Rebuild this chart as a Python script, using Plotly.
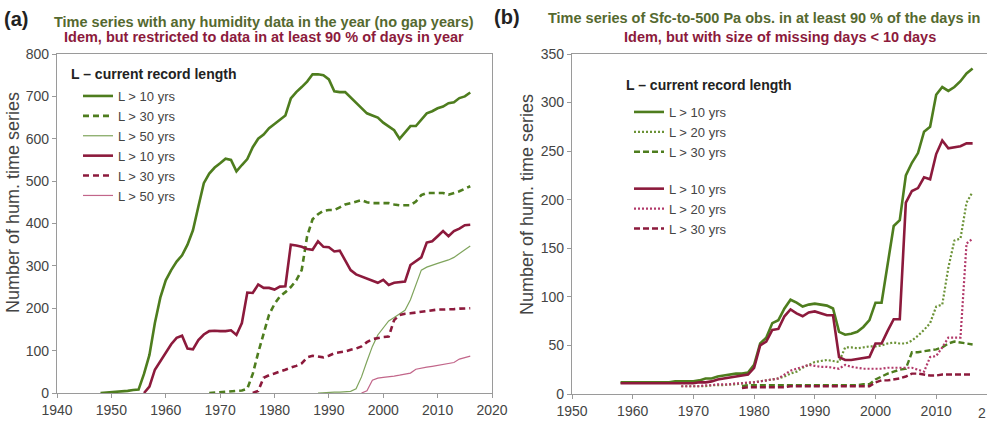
import plotly.graph_objects as go

W, H = 987, 428
FONT = "Liberation Sans, Arial, sans-serif"
GREEN = "#4e7d1e"
GREEN_LIGHT = "#7fa45c"
GREEN_DOT = "#6b9236"
RED = "#8c1a3c"
RED_LIGHT = "#c2668a"
RED_DOT = "#b23a6a"
TITLE_GREEN = "#55692f"
TITLE_RED = "#8c1a3c"

# ---------------- panel (a) ----------------
years_g10a = list(range(1948, 2017))
g10a = [0, 1, 2, 3, 3, 5, 7, 8, 45, 90, 165, 225, 266, 290, 310, 325, 350, 384, 440, 495,
        518, 532, 542, 553, 550, 523, 538, 552, 580, 600, 610, 625, 635, 645, 655, 695, 710,
        722, 735, 752, 752, 750, 740, 712, 710, 710, 698, 685, 672, 660, 655, 650, 638, 628,
        620, 600, 615, 630, 630, 645, 660, 665, 672, 676, 684, 686, 696, 700, 709]

years_r10a = list(range(1956, 2017))
r10a = [0, 15, 55, 75, 95, 115, 130, 135, 105, 103, 125, 138, 146, 147, 146, 146, 148, 137,
        165, 237, 236, 256, 248, 248, 244, 251, 252, 350, 348, 345, 340, 338, 358, 345, 344,
        334, 336, 312, 290, 280, 275, 270, 265, 260, 267, 255, 260, 262, 263, 302, 312, 320,
        355, 358, 370, 382, 370, 382, 388, 396, 397]

years_g30a = list(range(1968, 2017))
g30a = [0, 1, 2, 2, 3, 4, 6, 10, 45, 95, 140, 185, 210, 228, 238, 250, 266, 290, 370, 410,
        422, 430, 432, 432, 438, 445, 448, 452, 455, 450, 448, 448, 448, 448, 445, 443, 443,
        443, 452, 467, 472, 472, 472, 472, 468, 472, 476, 482, 488]

years_r30a = list(range(1976, 2017))
r30a = [0, 5, 36, 42, 46, 50, 55, 60, 64, 70, 84, 88, 86, 84, 88, 94, 96, 98, 102, 105, 110,
        120, 127, 130, 132, 133, 172, 184, 187, 188, 190, 192, 194, 196, 197, 197, 197, 198,
        199, 200, 200]

years_g50a = list(range(1988, 2017))
g50a = [0, 1, 1, 2, 2, 3, 4, 10, 38, 75, 110, 137, 155, 170, 178, 186, 195, 220, 255, 290,
        297, 302, 306, 310, 314, 320, 328, 338, 347]

years_r50a = list(range(1996, 2017))
r50a = [0, 5, 30, 35, 37, 38, 40, 42, 44, 47, 56, 59, 61, 63, 65, 67, 69, 72, 80, 84, 87]

# ---------------- panel (b) ----------------
years_10b = list(range(1958, 2017))
g10b = [12, 12, 12, 12, 12, 12, 12, 12, 12, 13, 13, 13, 13, 14, 16, 16, 18, 19, 20, 21, 21,
        22, 30, 52, 58, 73, 76, 88, 97, 94, 90, 92, 93, 92, 91, 88, 64, 61, 62, 64, 69, 76,
        94, 94, 135, 173, 179, 225, 238, 248, 270, 275, 308, 316, 312, 316, 322, 330, 335]
r10b = [11, 11, 11, 11, 11, 11, 11, 11, 11, 11, 11, 11, 11, 12, 12, 13, 15, 16, 17, 18, 19,
        20, 27, 50, 54, 66, 67, 80, 87, 83, 80, 84, 85, 83, 81, 81, 38, 35, 35, 36, 37, 38,
        52, 52, 65, 77, 77, 197, 209, 212, 223, 221, 247, 261, 253, 254, 255, 258, 258]

years_20b = list(range(1968, 2017))
g20b = [8, 8, 8, 8, 8, 9, 9, 9, 10, 10, 11, 11, 12, 13, 14, 15, 16, 18, 21, 23, 27, 30, 33,
        34, 35, 34, 33, 48, 48, 47, 48, 49, 49, 50, 52, 53, 52, 52, 55, 60, 66, 73, 90, 92,
        130, 158, 160, 197, 208]
r20b = [8, 8, 8, 8, 9, 9, 10, 10, 10, 11, 11, 12, 12, 13, 14, 15, 16, 20, 24, 26, 28, 30, 29,
        28, 28, 27, 26, 30, 28, 27, 26, 26, 26, 26, 27, 27, 27, 27, 27, 25, 23, 38, 39, 48,
        58, 58, 58, 155, 160]

years_30b = list(range(1978, 2017))
g30b = [8, 9, 9, 9, 9, 9, 9, 9, 9, 9, 9, 9, 9, 9, 9, 9, 9, 9, 9, 9, 10, 10, 15, 18, 21, 23,
        25, 26, 43, 43, 44, 45, 46, 48, 52, 54, 53, 52, 51]
r30b = [6, 7, 7, 7, 7, 7, 7, 7, 8, 8, 8, 8, 8, 8, 8, 8, 8, 8, 8, 8, 8, 8, 12, 14, 14, 15, 16,
        18, 21, 21, 20, 19, 19, 20, 20, 20, 20, 20, 20]

x_ticks_a = [1940, 1950, 1960, 1970, 1980, 1990, 2000, 2010, 2020]
x_ticks_b = [1950, 1960, 1970, 1980, 1990, 2000, 2010]
y_ticks_a = [0, 100, 200, 300, 400, 500, 600, 700, 800]
y_ticks_b = [0, 50, 100, 150, 200, 250, 300, 350]

fig = go.Figure()


def add(x, y, name, color, width, dash, xa, ya, legend, group=None):
    fig.add_trace(go.Scatter(
        x=x, y=y, mode="lines", name=name,
        line=dict(color=color, width=width, dash=dash),
        xaxis=xa, yaxis=ya, legend=legend, legendgroup=group,
    ))


DASH_A = "6px,4px"
DASH_B = "6px,3px"
DOT_B = "2px,2px"

add(years_g10a, g10a, "L > 10 yrs", GREEN, 2.6, "solid", "x", "y", "legend")
add(years_g30a, g30a, "L > 30 yrs", GREEN, 2.6, DASH_A, "x", "y", "legend")
add(years_g50a, g50a, "L > 50 yrs", GREEN_LIGHT, 1.2, "solid", "x", "y", "legend")
add(years_r10a, r10a, "L > 10 yrs", RED, 2.6, "solid", "x", "y", "legend")
add(years_r30a, r30a, "L > 30 yrs", RED, 2.6, DASH_A, "x", "y", "legend")
add(years_r50a, r50a, "L > 50 yrs", RED_LIGHT, 1.2, "solid", "x", "y", "legend")

add(years_10b, g10b, "L > 10 yrs", GREEN, 2.6, "solid", "x2", "y2", "legend2", "g")
add(years_20b, g20b, "L > 20 yrs", GREEN_DOT, 2.2, DOT_B, "x2", "y2", "legend2", "g")
add(years_30b, g30b, "L > 30 yrs", GREEN, 2.4, DASH_B, "x2", "y2", "legend2", "g")
add(years_10b, r10b, "L > 10 yrs", RED, 2.6, "solid", "x2", "y2", "legend2", "r")
add(years_20b, r20b, "L > 20 yrs", RED_DOT, 2.2, DOT_B, "x2", "y2", "legend2", "r")
add(years_30b, r30b, "L > 30 yrs", RED, 2.4, DASH_B, "x2", "y2", "legend2", "r")

axis_common = dict(
    showline=True, linecolor="#9a9a9a", linewidth=1.2,
    ticks="outside", ticklen=4, tickcolor="#9a9a9a",
    showgrid=False, zeroline=False, automargin=False,
    tickfont=dict(family=FONT, size=14, color="#444444"),
)

fig.update_layout(
    width=W, height=H,
    margin=dict(l=0, r=0, t=0, b=0, autoexpand=False),
    paper_bgcolor="white", plot_bgcolor="white",
    font=dict(family=FONT, color="#444444"),
    xaxis=dict(domain=[57 / W, 492 / W], range=[1940, 2020], tickvals=x_ticks_a,
               anchor="y", mirror=True, **axis_common),
    yaxis=dict(domain=[1 - 393 / H, 1 - 54 / H], range=[0, 800], tickvals=y_ticks_a,
               anchor="x", mirror=True, **axis_common),
    xaxis2=dict(domain=[572 / W, 1.0], range=[1950, 2018.37], tickvals=x_ticks_b,
                anchor="y2", mirror=True, **axis_common),
    yaxis2=dict(domain=[1 - 394 / H, 1 - 54 / H], range=[0, 350], tickvals=y_ticks_b,
                anchor="x2", mirror=False, **axis_common),
    legend=dict(x=78 / W, y=1 - 81 / H, xanchor="left", yanchor="top",
                bgcolor="rgba(0,0,0,0)", itemwidth=30, tracegroupgap=0,
                font=dict(family=FONT, size=13, color="#444444")),
    legend2=dict(x=629 / W, y=1 - 97 / H, xanchor="left", yanchor="top",
                 bgcolor="rgba(0,0,0,0)", itemwidth=30, tracegroupgap=17,
                 font=dict(family=FONT, size=13, color="#444444")),
)


def text(s, x, y, size, color, bold=False, xanchor="left", angle=0):
    fig.add_annotation(
        text=f"<b>{s}</b>" if bold else s,
        x=x / W, y=1 - y / H, xref="paper", yref="paper",
        xanchor=xanchor, yanchor="middle", showarrow=False, textangle=angle,
        font=dict(family=FONT, size=size, color=color),
    )


text("(a)", 2, 19, 20, "#222222", bold=True)
text("Time series with any humidity data in the year (no gap years)", 264, 22, 14.5,
     TITLE_GREEN, bold=True, xanchor="center")
text("Idem, but restricted to data in at least 90 % of days in year", 264, 37, 14.5,
     TITLE_RED, bold=True, xanchor="center")
text("(b)", 492, 17, 20, "#222222", bold=True)
text("Time series of Sfc-to-500 Pa obs. in at least 90 % of the days in", 546, 18, 14.5,
     TITLE_GREEN, bold=True)
text("Idem, but with size of missing days < 10 days", 780, 37, 14.5,
     TITLE_RED, bold=True, xanchor="center")

text("L – current record length", 69, 74, 14, "#222222", bold=True)
text("L – current record length", 624, 85, 14, "#222222", bold=True)

text("Number of hum. time series", 13, 203, 18, "#444444", xanchor="center", angle=-90)
text("Number of hum. time series", 527, 205, 18, "#444444", xanchor="center", angle=-90)

# first digit of the 2020 tick label, which sits at the clipped right edge of panel (b)
text("2", 988, 413, 14, "#444444", xanchor="right")

fig.write_html("out.html")
